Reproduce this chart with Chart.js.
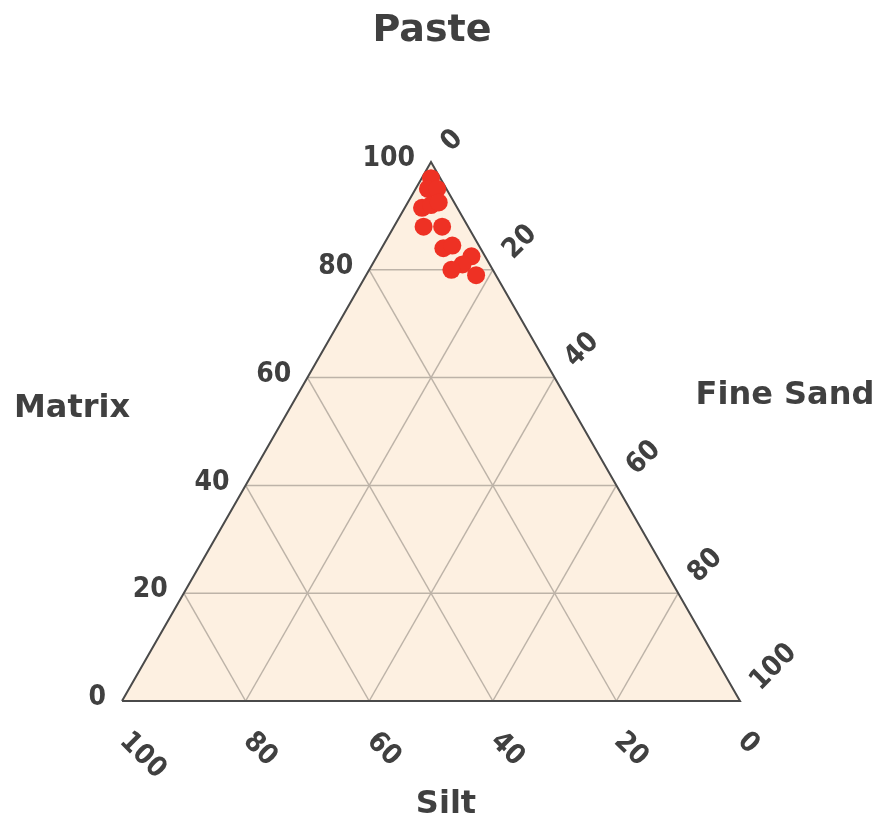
<!DOCTYPE html>
<html>
<head>
<meta charset="utf-8">
<script src="https://cdn.jsdelivr.net/npm/chart.js@4/dist/chart.umd.min.js"></script>
<style>
  body { margin: 0; background: #fff; }
  #wrap { width: 880px; height: 819px; position: relative; }
</style>
</head>
<body>
<div id="wrap"><canvas id="ternaryChart"></canvas></div>
<script>
// ternary data: paste (top), fineSand (right), silt (bottom-left)
var paste    = [97, 95, 95, 91.5, 92, 92.5, 88, 88, 84, 84.5, 82.5, 81, 80, 79];
var fineSand = [1.5, 2, 3.5, 2.8, 4, 5, 4.8, 7.8, 10, 11.2, 15.3, 14.6, 13.3, 17.8];
var silt     = [1.5, 3, 1.5, 5.7, 4, 2.5, 7.2, 4.2, 6, 4.3, 2.2, 4.4, 6.7, 3.2];

var tickValues = [0, 20, 40, 60, 80, 100];
var gridValues = [20, 40, 60, 80];

var axisTitles = { top: "Paste", left: "Matrix", right: "Fine Sand", bottom: "Silt" };

var H = Math.sqrt(3) / 2;
function toXY(t, r) {
  // t = top component, r = right component, rest is bottom-left
  return { x: (t * 0.5 + r) / 100, y: t * H / 100 };
}

var textColor = "#404040";
var titleFont = "'DejaVu Sans', Verdana, sans-serif";
var tickFont = "'DejaVu Sans Condensed', 'DejaVu Sans', sans-serif";

var corners = [toXY(0, 0), toXY(100, 0), toXY(0, 100), toXY(0, 0)];
var datasets = [];

// points
var pts = paste.map(function (t, i) { return toXY(t, fineSand[i]); });
datasets.push({
  type: "scatter",
  data: pts,
  backgroundColor: "#ee3124",
  borderColor: "#ee3124",
  pointRadius: 9,
  pointHoverRadius: 9,
  borderWidth: 0,
  clip: false,
  order: 0
});

// triangle outline
datasets.push({
  type: "line",
  data: corners,
  borderColor: "#4a4a4a",
  borderWidth: 2,
  fill: false,
  pointRadius: 0,
  tension: 0,
  clip: false,
  order: 1
});

// grid lines
gridValues.forEach(function (v) {
  var lines = [
    [toXY(v, 0), toXY(v, 100 - v)],          // constant top
    [toXY(0, v), toXY(100 - v, v)],          // constant right
    [toXY(0, 100 - v), toXY(100 - v, 0)]     // constant bottom-left
  ];
  lines.forEach(function (seg) {
    datasets.push({
      type: "line",
      data: seg,
      borderColor: "#bdb3a8",
      borderWidth: 1.5,
      fill: false,
      pointRadius: 0,
      clip: false,
      order: 2
    });
  });
});

var ternaryPlugin = {
  id: "ternaryLabels",
  beforeDatasetsDraw: function (chart) {
    var ctx = chart.ctx;
    var xs = chart.scales.x, ys = chart.scales.y;
    ctx.save();
    ctx.fillStyle = "#fdf0e1";
    ctx.beginPath();
    corners.forEach(function (c, i) {
      var x = xs.getPixelForValue(c.x), y = ys.getPixelForValue(c.y);
      if (i === 0) ctx.moveTo(x, y); else ctx.lineTo(x, y);
    });
    ctx.closePath();
    ctx.fill();
    ctx.restore();
  },
  afterDatasetsDraw: function (chart) {
    var ctx = chart.ctx;
    var xs = chart.scales.x, ys = chart.scales.y;
    function px(p) { return { x: xs.getPixelForValue(p.x), y: ys.getPixelForValue(p.y) }; }
    ctx.save();
    ctx.fillStyle = textColor;
    ctx.font = "bold 28px " + tickFont;
    ctx.textBaseline = "middle";

    // left ticks (top component)
    ctx.textAlign = "right";
    tickValues.forEach(function (v) {
      var p = px(toXY(v, 0));
      ctx.fillText(String(v), p.x - 16, p.y - 3);
    });

    // right ticks (fine sand)
    tickValues.forEach(function (v) {
      var p = px(toXY(100 - v, v));
      ctx.save();
      ctx.translate(p.x + 15, p.y - 15);
      ctx.rotate(-Math.PI / 4);
      ctx.textAlign = "left";
      ctx.fillText(String(v), 0, 0);
      ctx.restore();
    });

    // bottom ticks (silt)
    tickValues.forEach(function (v) {
      var p = px(toXY(0, 100 - v));
      ctx.save();
      ctx.translate(p.x + 2, p.y + 36);
      ctx.rotate(Math.PI / 4);
      ctx.textAlign = "left";
      ctx.fillText(String(v), 0, 0);
      ctx.restore();
    });

    // titles
    ctx.textAlign = "center";
    ctx.font = "bold 38px " + titleFont;
    ctx.fillText(axisTitles.top, 432, 31);
    ctx.font = "bold 32px " + titleFont;
    ctx.fillText(axisTitles.left, 72, 409);
    ctx.fillText(axisTitles.right, 785, 396);
    ctx.fillText(axisTitles.bottom, 446, 805);
    ctx.restore();
  }
};

new Chart(document.getElementById("ternaryChart"), {
  type: "scatter",
  data: { datasets: datasets },
  options: {
    responsive: true,
    maintainAspectRatio: false,
    animation: false,
    layout: { padding: { left: 122, right: 140, top: 162, bottom: 118 } },
    scales: {
      x: { type: "linear", min: 0, max: 1, display: false },
      y: { type: "linear", min: 0, max: H, display: false }
    },
    plugins: {
      legend: { display: false },
      tooltip: { enabled: false }
    }
  },
  plugins: [ternaryPlugin]
});
</script>
</body>
</html>
